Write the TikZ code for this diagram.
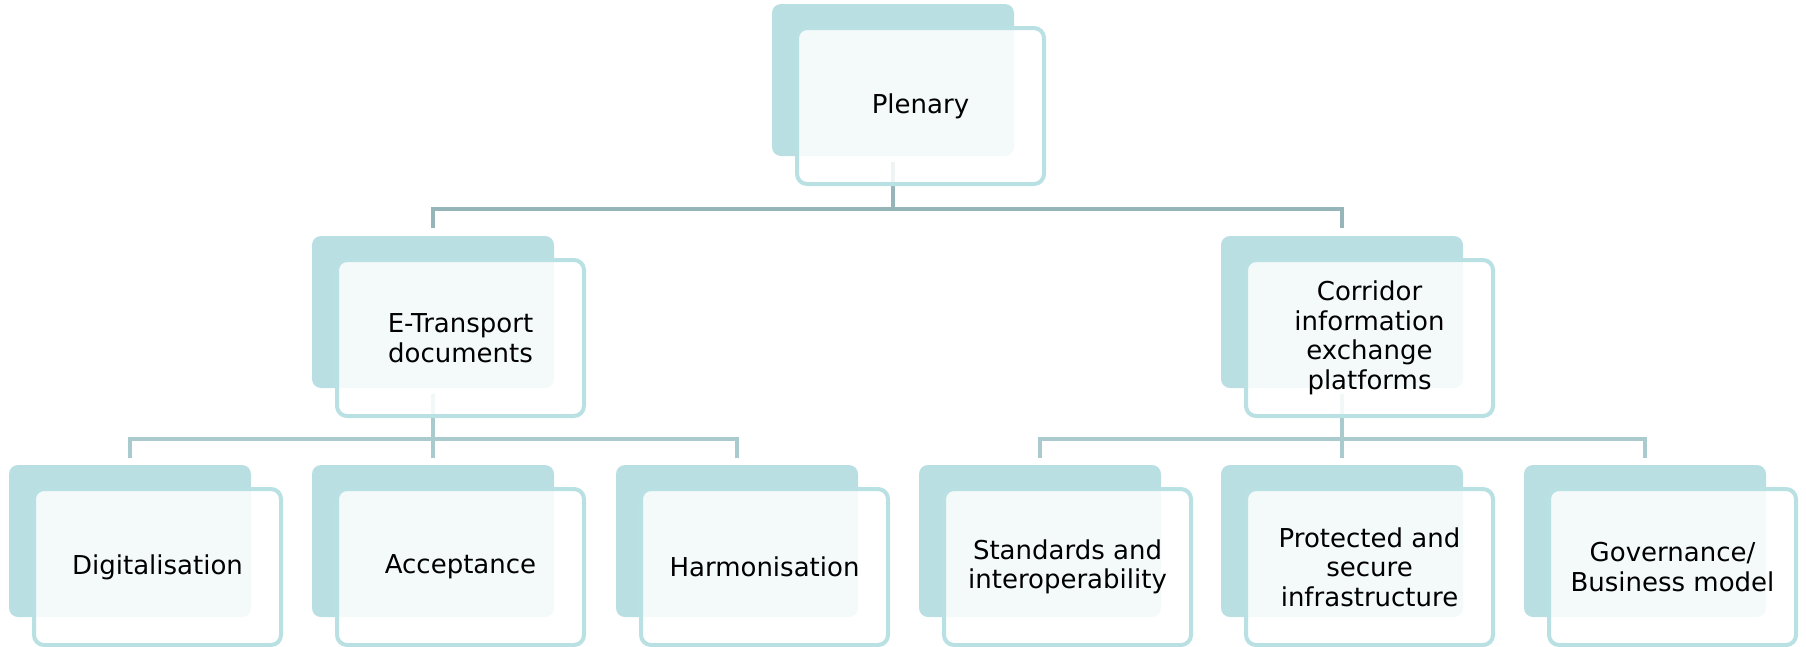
\documentclass[tikz,border=0pt]{standalone}
\usepackage{fontspec}
\setmainfont{DejaVu Sans}
\definecolor{backfill}{HTML}{B9DFE2}
\definecolor{frontline}{HTML}{B9E0E3}
\definecolor{connA}{HTML}{96B5B9}
\definecolor{connB}{HTML}{A9CBCE}
\begin{document}
\begin{tikzpicture}[x=1pt,y=-1pt,
  backbox/.style={fill=backfill, draw=none, rounded corners=9pt, minimum width=242pt, minimum height=152pt, inner sep=0pt, outer sep=0pt},
  frontbox/.style={draw=frontline, line width=4pt, fill=white, fill opacity=0.85, text opacity=1, rounded corners=10pt, minimum width=247pt, minimum height=156pt, inner sep=0pt, outer sep=0pt, align=center, text=black, font=\fontsize{26}{29.5}\selectfont},
  linkA/.style={draw=connA, line width=4.5pt},
  linkB/.style={draw=connB, line width=4.5pt}]
\useasboundingbox (0,0) rectangle (1806,646);
\coordinate (bus1) at (0,209);
\coordinate (bus2) at (0,439);
% back boxes
\node[backbox] (pb) at (893,80) {};
\node[backbox] (eb) at (433,312) {};
\node[backbox] (cb) at (1342,312) {};
\node[backbox] (d1b) at (130,541) {};
\node[backbox] (d2b) at (433,541) {};
\node[backbox] (d3b) at (737,541) {};
\node[backbox] (s1b) at (1040,541) {};
\node[backbox] (s2b) at (1342,541) {};
\node[backbox] (s3b) at (1645,541) {};
% connectors
\draw[linkA] ([yshift=-6pt]pb.south) -- (pb.south |- bus1);
\draw[linkA] ([yshift=8pt]eb.north) -- (eb.north |- bus1) -- (cb.north |- bus1) -- ([yshift=8pt]cb.north);
\draw[linkB] ([yshift=-6pt]eb.south) -- (eb.south |- bus2);
\draw[linkB] ([yshift=7pt]d1b.north) -- (d1b.north |- bus2) -- (d3b.north |- bus2) -- ([yshift=7pt]d3b.north);
\draw[linkB] (d2b.north |- bus2) -- ([yshift=7pt]d2b.north);
\draw[linkB] ([yshift=-6pt]cb.south) -- (cb.south |- bus2);
\draw[linkB] ([yshift=7pt]s1b.north) -- (s1b.north |- bus2) -- (s3b.north |- bus2) -- ([yshift=7pt]s3b.north);
\draw[linkB] (s2b.north |- bus2) -- ([yshift=7pt]s2b.north);
% front boxes
\node[frontbox] (p) at (920.5,106) {\raisebox{-3pt}{Plenary}};
\node[frontbox] (e) at (460.5,338) {E-Transport\\documents};
\node[frontbox] (c) at (1369.5,338) {Corridor\\information\\exchange\\platforms};
\node[frontbox] (d1) at (157.5,567) {Digitalisation};
\node[frontbox] (d2) at (460.5,567) {Acceptance};
\node[frontbox] (d3) at (764.5,567) {Harmonisation};
\node[frontbox] (s1) at (1067.5,567) {Standards and\\interoperability};
\node[frontbox] (s2) at (1369.5,567) {Protected and\\secure\\infrastructure};
\node[frontbox] (s3) at (1672.5,567) {Governance/\\Business model};
\end{tikzpicture}
\end{document}
